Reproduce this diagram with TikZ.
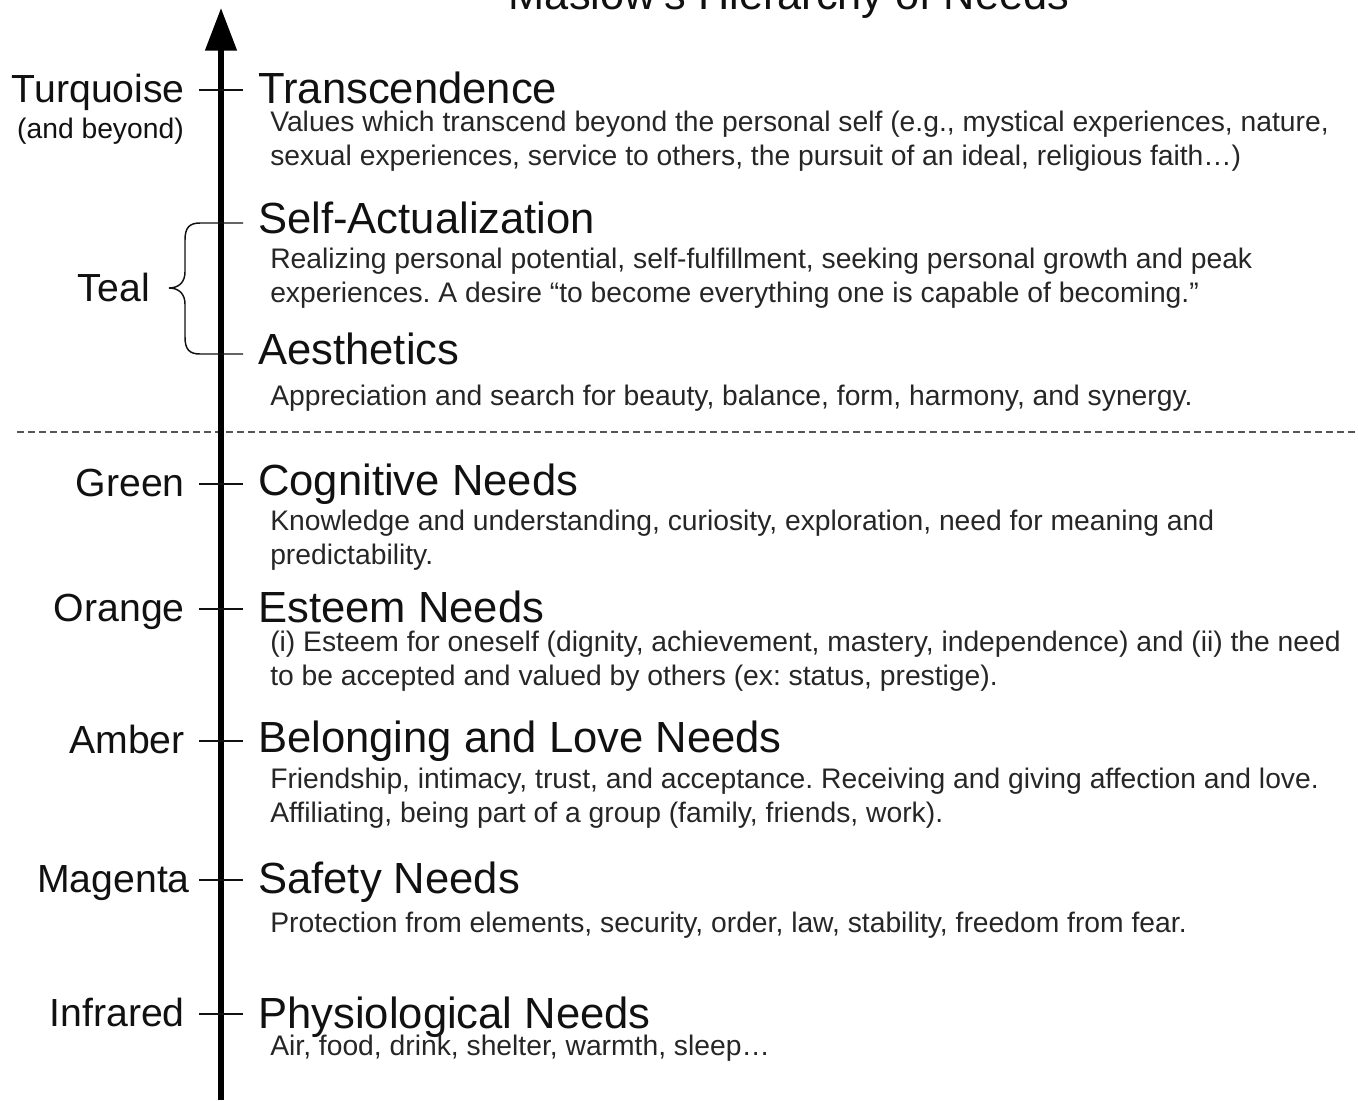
\documentclass[tikz,border=0pt]{standalone}
\usepackage{fontspec}
\setmainfont{Liberation Sans}
\usepackage{xcolor}
\usepackage{tikz}
\usetikzlibrary{arrows.meta}
\definecolor{colInk} {HTML}{111111}
\definecolor{colText}{HTML}{262626}
\definecolor{colDash}{HTML}{555555}
\frenchspacing
\tikzset{
  heading/.style={
    anchor=base west, inner sep=0pt, text=colInk,
    font=\fontsize{32.7pt}{38pt}\selectfont
  },
  % multi-line nodes sit on the baseline of their last line
  desc/.style={
    anchor=base west, inner sep=0pt, align=left, text=colText,
    font=\fontsize{21.2pt}{25.5pt}\selectfont
  },
  level/.style={
    anchor=base east, inner sep=0pt, text=colInk,
    font=\fontsize{29.4pt}{34pt}\selectfont
  },
  sublevel/.style={level, font=\fontsize{21.2pt}{25pt}\selectfont},
  tickmark/.style={line width=1.5pt, draw=colInk},
  bracemark/.style={line width=1.1pt, draw=colInk},
  axisarr/.style={
    -{Triangle[length=32pt,width=23pt]},
    line width=4.3pt, draw=black
  },
  sepline/.style={draw=colDash, line width=1.1pt, dash pattern=on 5.25pt off 3pt}
}
\begin{document}
\begin{tikzpicture}[x=0.75pt, y=-0.75pt]
  \useasboundingbox (0,0) rectangle (1358,1100);
  % title (cut by the page edge)
  \node[anchor=base, inner sep=0pt, text=colInk,
        font=\fontsize{32.5pt}{38pt}\selectfont] (title) at (789,9) {Maslow's Hierarchy of Needs};
  % separator
  \coordinate (sepL) at (17,432);
  \coordinate (sepR) at (1356,432);
  \draw[sepline] (sepL) -- (sepR);
  % axis
  \coordinate (axBot) at (221,1100);
  \coordinate (axTop) at (221,8);
  \draw[axisarr] (axBot) -- (axTop);
  % ticks
  \foreach \y in {90,484,609,741,880,1014}
    \draw[tickmark] (199,\y) -- (243,\y);
  % brace for the two upper levels
  \draw[bracemark] (243,223) -- (200,223)
    .. controls (189,223) and (185,228) .. (185,240) -- (185,272)
    .. controls (185,282) and (179,288) .. (169,288)
    .. controls (179,288) and (185,294) .. (185,304) -- (185,337)
    .. controls (185,349) and (189,354) .. (200,354) -- (243,354);
  % levels
  \node[level]    (turq)   at (185,102) {Turquoise};
  \node[sublevel] (beyond) at (184,138) {(and beyond)};
  \node[level]    (teal)   at (150,301) {Teal};
  \node[level]    (green)  at (185,496) {Green};
  \node[level]    (orange) at (185,621) {Orange};
  \node[level]    (amber)  at (185,753) {Amber};
  \node[level]    (magenta)at (190,892) {Magenta};
  \node[level]    (infra)  at (185,1026) {Infrared};
  % needs
  \node[heading] (trans) at (258,103) {Transcendence};
  \node[desc]    (transD) at (270,165) {Values which transcend beyond the personal self (e.g., mystical experiences, nature,\\sexual experiences, service to others, the pursuit of an ideal, religious faith\dots)};
  \node[heading] (self) at (258,233) {Self-Actualization};
  \node[desc]    (selfD) at (270,302) {Realizing personal potential, self-fulfillment, seeking personal growth and peak\\experiences. A desire “to become everything one is capable of becoming.”};
  \node[heading] (aes) at (258,364) {Aesthetics};
  \node[desc]    (aesD) at (270,405) {Appreciation and search for beauty, balance, form, harmony, and synergy.};
  \node[heading] (cog) at (258,495) {Cognitive Needs};
  \node[desc]    (cogD) at (270,564) {Knowledge and understanding, curiosity, exploration, need for meaning and\\predictability.};
  \node[heading] (est) at (258,622) {Esteem Needs};
  \node[desc]    (estD) at (270,685) {(i) Esteem for oneself (dignity, achievement, mastery, independence) and (ii) the need\\to be accepted and valued by others (ex: status, prestige).};
  \node[heading] (bel) at (258,752) {Belonging and Love Needs};
  \node[desc]    (belD) at (270,822) {Friendship, intimacy, trust, and acceptance. Receiving and giving affection and love.\\Affiliating, being part of a group (family, friends, work).};
  \node[heading] (saf) at (258,893) {Safety Needs};
  \node[desc]    (safD) at (270,932) {Protection from elements, security, order, law, stability, freedom from fear.};
  \node[heading] (phys) at (258,1028) {Physiological Needs};
  \node[desc]    (physD) at (270,1055) {Air, food, drink, shelter, warmth, sleep\dots};
\end{tikzpicture}
\end{document}
